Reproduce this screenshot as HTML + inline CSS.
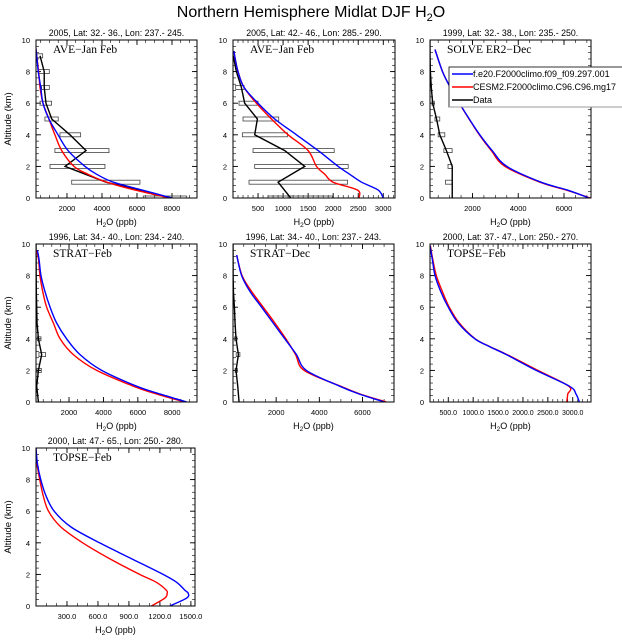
<!DOCTYPE html>
<html><head><meta charset="utf-8">
<style>
body{margin:0;background:#fff;width:622px;height:640px;overflow:hidden}
svg{display:block;font-family:"Liberation Sans",sans-serif}
</style></head><body>
<svg id="chart" width="622" height="640" viewBox="0 0 622 640">
<text x="311" y="17" font-size="16" text-anchor="middle">Northern Hemisphere Midlat DJF H<tspan font-size="11" dy="4">2</tspan><tspan dy="-4">O</tspan></text>
</svg>
<script>
// Panel 1: AVE Jan Feb 32-36
const p1ModelAlt=[0,0.5,1,1.5,2,3,4,5,6,7,8,9,9.6];
const p1Blue=[8000,6300,4650,3700,3030,2060,1490,970,630,500,360,270,210];
const p1Red=[7900,5900,4270,3200,2400,1700,1310,970,630,460,380,270,210];
const p1DataAlt=[0,1,2,3,4,5,6,7,8,9];
const p1Data=[8000,4230,1890,3090,2170,1130,800,700,700,460];
const p1Min=[6360,2270,1030,1310,1600,740,460,550,360,266];
const p1Max=[8840,6170,4170,4400,2780,1500,1120,990,990,610];
// Panel 2: AVE Jan Feb 42-46
const p2ModelAlt=[0,0.5,1,1.5,2,3,4,5,6,7,8,9,9.3];
const p2Blue=[2999,2900,2567,2330,2100,1700,1267,833,500,220,100,33,20];
const p2Red=[2514,2487,2000,1833,1667,1500,1100,767,467,220,100,33,20];
const p2DataAlt=[0,1,2,3,4,5,6,7,8,9];
const p2Data=[1153,900,1433,1033,433,487,233,167,67,5];
const p2Min=[700,320,433,400,187,200,120,53,null,null];
const p2Max=[1987,2287,2300,2020,1087,913,500,220,null,null];
// Panel 3: SOLVE ER2 Dec
const p3ModelAlt=[0,0.5,1,2,3,4,5,6,7,8,9.4];
const p3Blue=[7100,6150,5000,3500,2860,2320,1860,1430,1030,690,360];
const p3Red=[7150,6100,4950,3420,2820,2300,1850,1420,1030,690,360];
const p3DataAlt=[0,1,2,3,4,5,6,7,8,9,10];
const p3Data=[1115,1115,1115,860,570,430,260,200,160,145,140];
const p3Min=[null,820,930,750,500,360,230,null,null,null,null];
const p3Max=[null,1110,1110,1110,790,570,330,null,null,null,null];
// Panel 4: STRAT Feb 34-40 / 234-240
const p4ModelAlt=[0,0.5,1,2,3,4,5,6,7,8,9,9.6];
const p4Blue=[8840,7300,5930,3900,2640,1860,1280,900,600,370,260,160];
const p4Red=[8740,7100,5740,3610,2250,1480,1090,700,470,310,230,110];
const p4DataAlt=[0,1,2,3,4,5,6,7,8,9,10];
const p4Data=[220,120,220,410,220,140,120,100,90,85,80];
const p4Min=[null,null,140,250,160,null,null,null,null,null,null];
const p4Max=[null,null,390,640,370,null,null,null,null,null,null];
// Panel 5: STRAT Dec 34-40 / 237-243
const p5ModelAlt=[0,0.5,1,2,3,4,5,6,7,8,9.3];
const p5Blue=[7020,5860,4940,3400,2940,2400,1860,1324,785,400,170];
const p5Red=[7100,5900,4980,3300,2900,2450,1940,1400,860,420,170];
const p5DataAlt=[0,1,2,3,4,5,6,7,8,10];
const p5Data=[280,220,140,250,140,95,65,20,5,0];
const p5Min=[null,null,100,150,80,null,null,null,null,null];
const p5Max=[null,null,200,320,180,null,null,null,null,null];
// Panel 6: TOPSE Feb 37-47
const p6ModelAlt=[0,0.5,1,2,3,3.5,4,5,6,7,8,9,9.9];
const p6Blue=[3133,3067,2933,2267,1667,1334,1034,700,500,347,234,181,133];
const p6Red=[2880,2900,2920,2300,1680,1340,1040,720,520,380,260,190,140];
// Panel 7: TOPSE Feb 47-65
const p7ModelAlt=[0,0.5,0.8,1,1.5,2,3,4,5,6,7,8,9,10];
const p7Blue=[1296,1459,1475,1442,1362,1231,923,615,339,176,95,46,14,0];
const p7Red=[1118,1248,1270,1262,1166,1004,712,452,241,121,69,36,10,0];
// X tick labels
const p1Ticks=[2000,4000,6000,8000];
const p2Ticks=[500,1000,1500,2000,2500,3000];
const p3Ticks=[2000,4000,6000];
const p6TickLabels=["500.0","1000.0","1500.0","2000.0","2500.0","3000.0"];
const p7TickLabels=["300.0","600.0","900.0","1200.0","1500.0"];

const NS="http://www.w3.org/2000/svg";
const svg=document.getElementById('chart');
function mk(tag,attrs,parent){const e=document.createElementNS(NS,tag);for(const k in attrs)e.setAttribute(k,attrs[k]);(parent||svg).appendChild(e);return e;}
function smooth(pts){
 let d='M'+pts[0][0]+','+pts[0][1];
 for(let i=0;i<pts.length-1;i++){
  const p0=pts[Math.max(i-1,0)],p1=pts[i],p2=pts[i+1],p3=pts[Math.min(i+2,pts.length-1)];
  const c1x=p1[0]+(p2[0]-p0[0])/6,c1y=p1[1]+(p2[1]-p0[1])/6;
  const c2x=p2[0]-(p3[0]-p1[0])/6,c2y=p2[1]-(p3[1]-p1[1])/6;
  d+=` C${c1x},${c1y} ${c2x},${c2y} ${p2[0]},${p2[1]}`;
 }
 return d;
}

const panels=[
 {x:36,y:40,w:161,h:158,xmin:230,xmax:9430,ticks:p1Ticks,labels:p1Ticks.map(String),minor:500,sub:"2005, Lat: 32.- 36., Lon: 237.- 245.",name:"AVE\u2212Jan Feb",alt:p1ModelAlt,blue:p1Blue,red:p1Red,dAlt:p1DataAlt,data:p1Data,dmin:p1Min,dmax:p1Max,ylab:true},
 {x:233,y:40,w:162,h:158,xmin:0,xmax:3234,ticks:p2Ticks,labels:p2Ticks.map(String),minor:100,sub:"2005, Lat: 42.- 46., Lon: 285.- 290.",name:"AVE\u2212Jan Feb",alt:p2ModelAlt,blue:p2Blue,red:p2Red,dAlt:p2DataAlt,data:p2Data,dmin:p2Min,dmax:p2Max},
 {x:430,y:40,w:161,h:158,xmin:143,xmax:7180,ticks:p3Ticks,labels:p3Ticks.map(String),minor:500,sub:"1999, Lat: 32.- 38., Lon: 235.- 250.",name:"SOLVE ER2\u2212Dec",alt:p3ModelAlt,blue:p3Blue,red:p3Red,dAlt:p3DataAlt,data:p3Data,dmin:p3Min,dmax:p3Max,legend:true},
 {x:36,y:244,w:161,h:158,xmin:80,xmax:9440,ticks:p1Ticks,labels:p1Ticks.map(String),minor:500,sub:"1996, Lat: 34.- 40., Lon: 234.- 240.",name:"STRAT\u2212Feb",alt:p4ModelAlt,blue:p4Blue,red:p4Red,dAlt:p4DataAlt,data:p4Data,dmin:p4Min,dmax:p4Max,ylab:true},
 {x:233,y:244,w:161,h:158,xmin:0,xmax:7460,ticks:p3Ticks,labels:p3Ticks.map(String),minor:500,sub:"1996, Lat: 34.- 40., Lon: 237.- 243.",name:"STRAT\u2212Dec",alt:p5ModelAlt,blue:p5Blue,red:p5Red,dAlt:p5DataAlt,data:p5Data,dmin:p5Min,dmax:p5Max},
 {x:430,y:244,w:161,h:158,xmin:133,xmax:3367,ticks:p2Ticks,labels:p6TickLabels,minor:100,sub:"2000, Lat: 37.- 47., Lon: 250.- 270.",name:"TOPSE\u2212Feb",alt:p6ModelAlt,blue:p6Blue,red:p6Red,tf:7},
 {x:36,y:448,w:159,h:158,xmin:0,xmax:1540,ticks:[300,600,900,1200,1500],labels:p7TickLabels,minor:100,sub:"2000, Lat: 47.- 65., Lon: 250.- 280.",name:"TOPSE\u2212Feb",alt:p7ModelAlt,blue:p7Blue,red:p7Red,ylab:true}
];

panels.forEach((p,i)=>{
 const g=mk('g',{});
 
 
 const sx=v=>p.x+(v-p.xmin)/(p.xmax-p.xmin)*p.w;
 const sy=a=>p.y+p.h-a/10*p.h;
 const cid='clip'+i;
 const cp=mk('clipPath',{id:cid},g);mk('rect',{x:p.x,y:p.y,width:p.w,height:p.h},cp);
 const st=mk('text',{x:p.x+p.w/2,y:p.y-4,'font-size':8.8,'text-anchor':'middle'},g);st.textContent=p.sub;
 
 
 for(let a=0;a<=10.001;a+=0.4){const yy=sy(a);const L=3;
  mk('line',{x1:p.x,x2:p.x+L,y1:yy,y2:yy,stroke:'#000','stroke-width':0.6},g);
  mk('line',{x1:p.x+p.w,x2:p.x+p.w-L,y1:yy,y2:yy,stroke:'#000','stroke-width':0.6},g);}
 for(let a=0;a<=10;a+=2){const yy=sy(a);
  mk('line',{x1:p.x,x2:p.x+5,y1:yy,y2:yy,stroke:'#000','stroke-width':0.9},g);
  mk('line',{x1:p.x+p.w,x2:p.x+p.w-5,y1:yy,y2:yy,stroke:'#000','stroke-width':0.9},g);
  const t=mk('text',{x:p.x-6,y:yy+3,'font-size':7.5,'text-anchor':'end'},g);t.textContent=a;
  
  }
 for(let v=Math.ceil(p.xmin/p.minor)*p.minor;v<=p.xmax;v+=p.minor){const xx=sx(v);
  mk('line',{x1:xx,x2:xx,y1:p.y+p.h,y2:p.y+p.h-3,stroke:'#000','stroke-width':0.6},g);
  mk('line',{x1:xx,x2:xx,y1:p.y,y2:p.y+3,stroke:'#000','stroke-width':0.6},g);}
 p.ticks.forEach((v,k)=>{const xx=sx(v);
  mk('line',{x1:xx,x2:xx,y1:p.y+p.h,y2:p.y+p.h-5,stroke:'#000','stroke-width':0.9},g);
  mk('line',{x1:xx,x2:xx,y1:p.y,y2:p.y+5,stroke:'#000','stroke-width':0.9},g);
  const t=mk('text',{x:xx,y:p.y+p.h+13,'font-size':p.tf||7.5,'text-anchor':'middle'},g);t.textContent=p.labels[k];
  
  });
 const xt=mk('text',{x:p.x+p.w/2,y:p.y+p.h+27,'font-size':9,'text-anchor':'middle'},g);
 xt.innerHTML='H<tspan font-size="6.5" dy="2">2</tspan><tspan dy="-2">O (ppb)</tspan>';
 
 
 if(p.ylab){const yt=mk('text',{x:0,y:0,'font-size':9.5,'text-anchor':'middle',transform:`translate(${p.x-25},${p.y+p.h/2}) rotate(-90)`},g);yt.textContent='Altitude (km)';
  
  }
 const inner=mk('g',{'clip-path':`url(#${cid})`},g);
 if(p.data){
  p.dAlt.forEach((a,k)=>{if(p.dmin[k]==null)return;
   const r=mk('rect',{x:sx(p.dmin[k]),y:sy(a)-2,width:sx(p.dmax[k])-sx(p.dmin[k]),height:4,fill:'none',stroke:'#444','stroke-width':0.8},inner);
   
   });
  const dl=mk('polyline',{points:p.dAlt.map((a,k)=>sx(p.data[k])+','+sy(a)).join(' '),fill:'none',stroke:'#000','stroke-width':1.4},inner);
  
  }
 const rl=mk('path',{d:smooth(p.alt.map((a,k)=>[sx(p.red[k]),sy(a)])),fill:'none',stroke:'#f00','stroke-width':1.4,'stroke-linejoin':'round'},inner);
 
 
 const bl=mk('path',{d:smooth(p.alt.map((a,k)=>[sx(p.blue[k]),sy(a)])),fill:'none',stroke:'#00f','stroke-width':1.4,'stroke-linejoin':'round'},inner);
 
 
 mk('rect',{x:p.x,y:p.y,width:p.w,height:p.h,fill:'none',stroke:'#000','stroke-width':1},g);
 const nm=mk('text',{x:p.x+17,y:p.y+13,'font-size':11.5,'font-family':'"Liberation Serif",serif'},g);nm.textContent=p.name;
 
 
 if(p.legend){
  const lg=mk('g',{},g);
  
  
  mk('rect',{x:449,y:67,width:180,height:40,fill:'#fff',stroke:'#000','stroke-width':0.8},lg);
  mk('line',{x1:449,x2:622,y1:107,y2:107,stroke:'#999','stroke-width':1},lg);
  [['#00f','f.e20.F2000climo.f09_f09.297.001'],['#f00','CESM2.F2000climo.C96.C96.mg17'],['#000','Data']].forEach((e,k)=>{
   const yy=74+k*13;
   const eg=mk('g',{},lg);
   
   
   mk('line',{x1:452,x2:473,y1:yy,y2:yy,stroke:e[0],'stroke-width':1.6},eg);
   const t=mk('text',{x:473,y:yy+3,'font-size':9},eg);t.textContent=e[1];});
 }
});
</script>
</body></html>
